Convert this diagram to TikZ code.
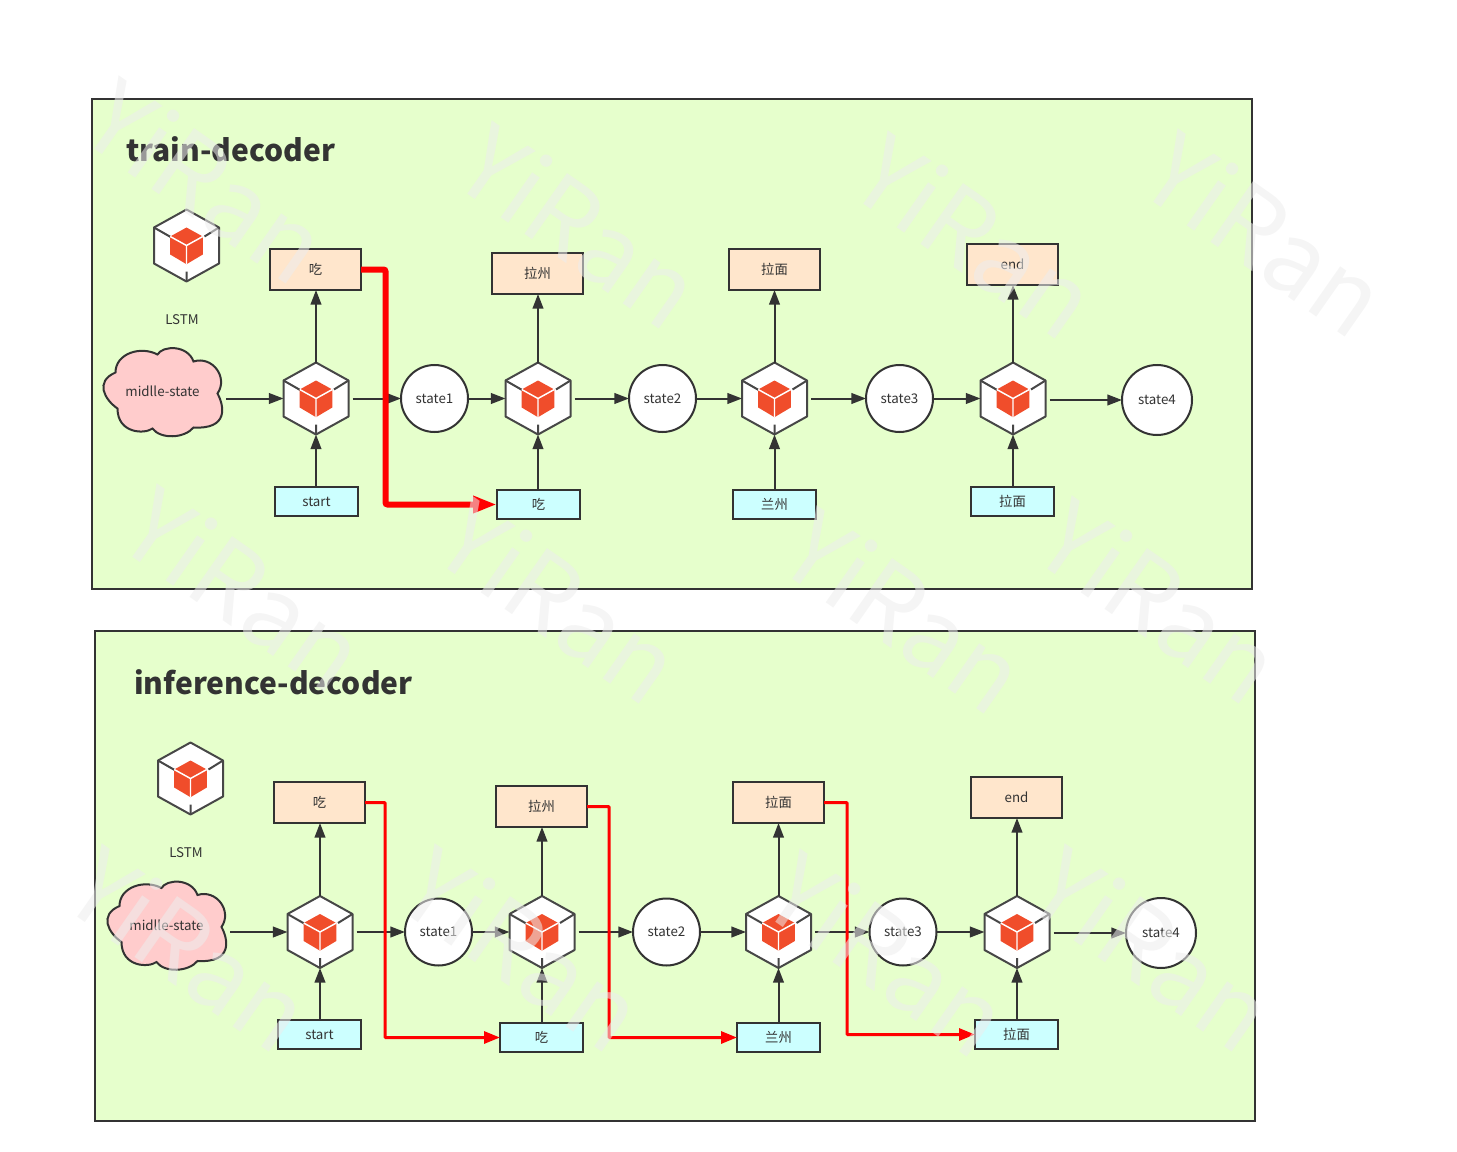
\documentclass[tikz,border=0pt]{standalone}
\usepackage{fontspec}
\setmainfont{Noto Sans CJK SC}
\usetikzlibrary{arrows.meta}
\definecolor{panelgreen}{HTML}{E6FFCC}
\definecolor{boxorange}{HTML}{FFE6CC}
\definecolor{boxcyan}{HTML}{CCFFFF}
\definecolor{cloudpink}{HTML}{FFCCCC}
\definecolor{ink}{HTML}{333333}
\definecolor{cubered}{HTML}{F04D2B}
\definecolor{markgrey}{HTML}{EDEDED}
\tikzset{
  panel/.style={draw=ink,fill=panelgreen,line width=1.5pt},
  orangebox/.style={draw=ink,fill=boxorange,line width=1.5pt,minimum width=68.25pt,minimum height=30.75pt,inner sep=0pt,outer sep=0pt,text=ink,font=\fontsize{10}{12}\selectfont},
  cyanbox/.style={draw=ink,fill=boxcyan,line width=1.5pt,minimum width=62.25pt,minimum height=21.75pt,inner sep=0pt,outer sep=0pt,text=ink,font=\fontsize{10}{12}\selectfont},
  statenode/.style={circle,draw=ink,fill=white,line width=1.5pt,minimum size=50.25pt,inner sep=0pt,outer sep=0pt,text=ink,font=\fontsize{10}{12}\selectfont},
  bigstate/.style={statenode,minimum size=52.5pt},
  cubeslot/.style={minimum width=48.75pt,minimum height=54pt,inner sep=0pt,outer sep=0pt},
  cloudslot/.style={minimum width=89.25pt,minimum height=65.25pt,inner sep=0pt,outer sep=0pt,text=ink,font=\fontsize{10}{12}\selectfont},
  plainlabel/.style={text=ink,inner sep=0pt,font=\fontsize{10}{12}\selectfont},
  titlelabel/.style={text=ink,inner sep=0pt,anchor=west,font=\fontsize{22.5}{26}\selectfont\bfseries},
  flow/.style={draw=ink,line width=1.5pt,-{Triangle[length=11pt,width=8pt]}},
  gapflow/.style={flow,shorten <=3pt},
  thinred/.style={draw=red,line width=2.25pt,rounded corners=0.5pt,-{Triangle[length=12pt,width=9pt]}},
  thickred/.style={draw=red,line width=4.5pt,rounded corners=1.5pt,-{Triangle[length=18pt,width=12pt]}},
  watermark/.style={text=markgrey,text opacity=0.55,rotate=-35,inner sep=0pt,font=\fontsize{76}{80}\selectfont}
}
\newcommand{\cubeicon}[3]{%
  \node[cubeslot] (#1) at (#2,#3) {};
  \begin{scope}[shift={(#2,#3)}]
    \draw[draw=ink!90,fill=white,line width=1.5pt,line join=round]
      (0,-36) -- (32.5,-18) -- (32.5,18) -- (0,36) -- (-32.5,18) -- (-32.5,-18) -- cycle;
    \draw[draw=ink!90,line width=1.5pt] (-32.5,-18) -- (-15,-8) (32.5,-18) -- (18,-9) (0,36) -- (0,26);
    \fill[cubered] (0,-18) -- (16.3,-9) -- (16.3,9) -- (0,18.7) -- (-16.3,9) -- (-16.3,-9) -- cycle;
    \draw[white,line width=1.1pt] (-16.3,-9) -- (0,0) -- (16.3,-9) (0,0) -- (0,18.7);
  \end{scope}}
\newcommand{\cloudshape}[3]{%
  \begin{scope}[shift={(#2,#3)}]
    \draw[draw=ink,fill=cloudpink,line width=1.5pt]
      (-47,-19) .. controls (-47,-38) and (-22,-46) .. (-5,-37)
      .. controls (0,-46) and (25,-47) .. (31,-30)
      .. controls (50,-36) and (66,-14) .. (55,2)
      .. controls (62,15) and (66,38) .. (31,36)
      .. controls (22,47) and (-2,48) .. (-10,37)
      .. controls (-18,43) and (-45,42) .. (-45,17)
      .. controls (-58,8) and (-68,-10) .. (-47,-19) -- cycle;
  \end{scope}
  \node[cloudslot] (#1) at (#2,#3) {midlle-state};}
\begin{document}
\begin{tikzpicture}[x=0.75pt,y=-0.75pt]
\useasboundingbox (0,0) rectangle (1457,1152);
% --- panel 1
\draw[panel] (92,99) rectangle (1252,589);
\node[titlelabel] (t1) at (126,149.5) {train-decoder};
\cubeicon{ia}{186.5}{245.5}
\node[plainlabel] (la) at (182,319.5) {LSTM};
\cloudshape{cla}{162.5}{391.5}
\node[orangebox] (oa1) at (315.5,269.5) {吃};
\node[orangebox] (oa2) at (537.5,273.5) {拉州};
\node[orangebox] (oa3) at (774.5,269.5) {拉面};
\node[orangebox] (oa4) at (1012.5,264.5) {end};
\cubeicon{ha1}{316}{398.5}
\cubeicon{ha2}{538}{398.5}
\cubeicon{ha3}{774.5}{398.5}
\cubeicon{ha4}{1013}{398.5}
\node[statenode] (sa1) at (434.5,398.5) {state1};
\node[statenode] (sa2) at (662.5,398.5) {state2};
\node[statenode] (sa3) at (899.5,398.5) {state3};
\node[bigstate] (sa4) at (1157,400) {state4};
\node[cyanbox] (ca1) at (316.5,501.5) {start};
\node[cyanbox] (ca2) at (538.5,504.5) {吃};
\node[cyanbox] (ca3) at (774.5,504.5) {兰州};
\node[cyanbox] (ca4) at (1012.5,501.5) {拉面};
\foreach \i in {1,2,3,4}{
  \draw[flow] (ha\i.north) -- (ha\i.north |- oa\i.south);
  \draw[flow] (ha\i.south |- ca\i.north) -- (ha\i.south);
}
\draw[gapflow] (cla.east |- ha1.west) -- (ha1.west);
\draw[gapflow] (ha1.east) -- (sa1.west);
\draw[flow] (sa1.east) -- (ha2.west);
\draw[gapflow] (ha2.east) -- (sa2.west);
\draw[flow] (sa2.east) -- (ha3.west);
\draw[gapflow] (ha3.east) -- (sa3.west);
\draw[flow] (sa3.east) -- (ha4.west);
\draw[gapflow] (ha4.east |- sa4.west) -- (sa4.west);
\coordinate (ra1) at (385.5,400);
\draw[thickred] (oa1.east) -| (ra1) |- (ca2.west);
% --- panel 2
\draw[panel] (95,631) rectangle (1255,1121);
\node[titlelabel] (t2) at (134,682.5) {inference-decoder};
\cubeicon{ib}{190.5}{778.5}
\node[plainlabel] (lb) at (186,852.5) {LSTM};
\cloudshape{clb}{166.5}{925}
\node[orangebox] (ob1) at (319.5,802.5) {吃};
\node[orangebox] (ob2) at (541.5,806.5) {拉州};
\node[orangebox] (ob3) at (778.5,802.5) {拉面};
\node[orangebox] (ob4) at (1016.5,797.5) {end};
\cubeicon{hb1}{320}{932}
\cubeicon{hb2}{542}{932}
\cubeicon{hb3}{778.5}{932}
\cubeicon{hb4}{1017}{932}
\node[statenode] (sb1) at (438.5,932) {state1};
\node[statenode] (sb2) at (666.5,932) {state2};
\node[statenode] (sb3) at (903,932) {state3};
\node[bigstate] (sb4) at (1161,933) {state4};
\node[cyanbox] (cb1) at (319.5,1034.5) {start};
\node[cyanbox] (cb2) at (541.5,1037.5) {吃};
\node[cyanbox] (cb3) at (778.5,1037.5) {兰州};
\node[cyanbox] (cb4) at (1016.5,1034.5) {拉面};
\foreach \i in {1,2,3,4}{
  \draw[flow] (hb\i.north) -- (hb\i.north |- ob\i.south);
  \draw[flow] (hb\i.south |- cb\i.north) -- (hb\i.south);
}
\draw[gapflow] (clb.east |- hb1.west) -- (hb1.west);
\draw[gapflow] (hb1.east) -- (sb1.west);
\draw[flow] (sb1.east) -- (hb2.west);
\draw[gapflow] (hb2.east) -- (sb2.west);
\draw[flow] (sb2.east) -- (hb3.west);
\draw[gapflow] (hb3.east) -- (sb3.west);
\draw[flow] (sb3.east) -- (hb4.west);
\draw[gapflow] (hb4.east |- sb4.west) -- (sb4.west);
\coordinate (rb1) at (385,900);
\coordinate (rb2) at (609,900);
\coordinate (rb3) at (847,900);
\draw[thinred] (ob1.east) -| (rb1) |- (cb2.west);
\draw[thinred] (ob2.east) -| (rb2) |- (cb3.west);
\draw[thinred] (ob3.east) -| (rb3) |- (cb4.west);
% --- watermarks
\foreach \wx/\wy/\wn in {207/181/wa,580/226/wb,976/236/wc,1266/234/wd,245/589/we,560/601/wf,905/611/wg,1160/601/wh,190/949/wi,523/949/wj,888/954/wk,1153/949/wl}{
  \node[watermark] (\wn) at (\wx,\wy) {YiRan};
}
\end{tikzpicture}
\end{document}
